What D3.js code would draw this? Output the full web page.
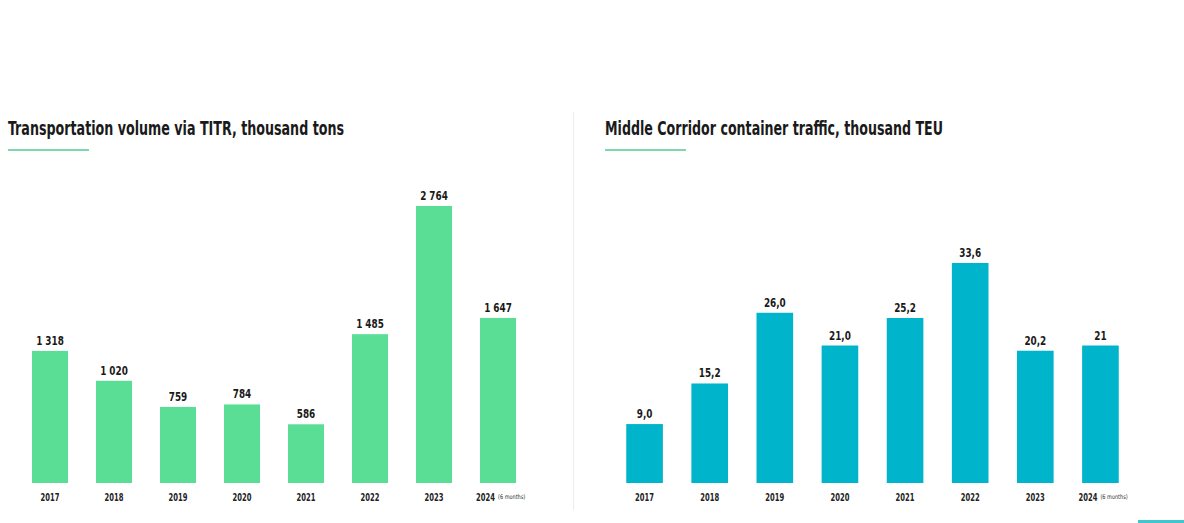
<!DOCTYPE html>
<meta charset="utf-8">
<script src="https://d3js.org/d3.v7.min.js"></script>
<style>
  body { margin: 0; background: #fff; }
  text { font-family: "Liberation Sans Narrow", "DejaVu Sans Condensed", "Roboto", sans-serif; }
</style>
<div id="my_dataviz"></div>
<script>

// data
var years = ["2017", "2018", "2019", "2020", "2021", "2022", "2023", "2024"];
var tonsValues = [1318, 1020, 759, 784, 586, 1485, 2764, 1647];
var tonsLabels = ["1 318", "1 020", "759", "784", "586", "1 485", "2 764", "1 647"];
var teuValues = [9.0, 15.2, 26.0, 21.0, 25.2, 33.6, 20.2, 21];
var teuLabels = ["9,0", "15,2", "26,0", "21,0", "25,2", "33,6", "20,2", "21"];
var titles = ["Transportation volume via TITR, thousand tons", "Middle Corridor container traffic, thousand TEU"];
var partialNote = "(6 months)";

var width = 1184, height = 523;

var svg = d3.select("#my_dataviz")
  .append("svg")
    .attr("width", width)
    .attr("height", height);

// divider between the two charts
svg.append("line")
  .attr("x1", 573.5).attr("x2", 573.5)
  .attr("y1", 112).attr("y2", 510)
  .attr("stroke", "#ececec")
  .attr("stroke-width", 1);

// little teal mark in the bottom right corner
svg.append("rect")
  .attr("x", 1138).attr("y", 520)
  .attr("width", 46).attr("height", 3)
  .attr("fill", "#3fc7c9");

// squeeze text horizontally to get a condensed look
function condense(sel, k) {
  sel.each(function() {
    var w = this.getComputedTextLength();
    d3.select(this)
      .attr("textLength", w * k)
      .attr("lengthAdjust", "spacingAndGlyphs");
  });
}

function drawChart(opt) {
  var g = svg.append("g");

  // title + underline
  g.append("text")
    .attr("x", opt.titleX)
    .attr("y", 135)
    .style("font-size", "19px")
    .style("font-weight", "bold")
    .attr("fill", "#1a1a1a")
    .attr("textLength", opt.titleLen)
    .attr("lengthAdjust", "spacingAndGlyphs")
    .text(opt.title);
  g.append("rect")
    .attr("x", opt.titleX)
    .attr("y", 149)
    .attr("width", 81)
    .attr("height", 2)
    .attr("fill", "#7dd8ae");

  var x = d3.scaleBand()
    .domain(years)
    .range(opt.xRange)
    .paddingInner(0.4375)
    .paddingOuter(0.21875);

  var y = d3.scaleLinear()
    .domain([0, opt.yMax])
    .range([483, 483 - opt.yPx]);

  // x axis labels (no line, no ticks), squeezed with a scale transform
  var axis = g.append("g")
    .attr("transform", "translate(0,483)")
    .call(d3.axisBottom(x).tickSize(0).tickPadding(11));
  axis.select(".domain").remove();
  axis.selectAll("text")
    .style("font-size", "10.5px")
    .style("font-weight", "bold")
    .attr("fill", "#222")
    .attr("transform", "scale(0.72,1)");

  // last year is partial: shift it left and add a small note after it
  var last = axis.selectAll(".tick").filter(function(d) { return d === "2024"; });
  last.select("text")
    .attr("text-anchor", "end")
    .attr("transform", "translate(-3,0) scale(0.72,1)")
    .attr("x", 0);
  last.append("text")
    .attr("transform", "translate(0,0) scale(0.85,1)")
    .attr("x", 0)
    .attr("y", 11)
    .attr("dy", "0.71em")
    .attr("text-anchor", "start")
    .style("font-size", "6.5px")
    .attr("fill", "#333")
    .text(partialNote);

  // bars
  g.selectAll("rect.bar")
    .data(opt.values)
    .enter()
    .append("rect")
      .attr("class", "bar")
      .attr("x", function(d, i) { return x(years[i]); })
      .attr("y", function(d) { return y(d); })
      .attr("width", x.bandwidth())
      .attr("height", function(d) { return 483 - y(d); })
      .attr("fill", opt.color);

  // value labels
  var vals = g.selectAll("text.val")
    .data(opt.values)
    .enter()
    .append("text")
      .attr("class", "val")
      .attr("x", function(d, i) { return x(years[i]) + x.bandwidth() / 2; })
      .attr("y", function(d) { return y(d) - 6; })
      .attr("text-anchor", "middle")
      .style("font-size", "12px")
      .style("font-weight", "bold")
      .attr("fill", "#1a1a1a")
      .text(function(d, i) { return opt.labels[i]; });
  condense(vals, 0.82);
}

drawChart({
  title: titles[0], titleX: 8, titleLen: 336,
  values: tonsValues, labels: tonsLabels,
  xRange: [18, 530], yMax: 2764, yPx: 277,
  color: "#5ade96"
});

drawChart({
  title: titles[1], titleX: 605, titleLen: 338,
  values: teuValues, labels: teuLabels,
  xRange: [612, 1133], yMax: 33.6, yPx: 220,
  color: "#00b5cb"
});

</script>
